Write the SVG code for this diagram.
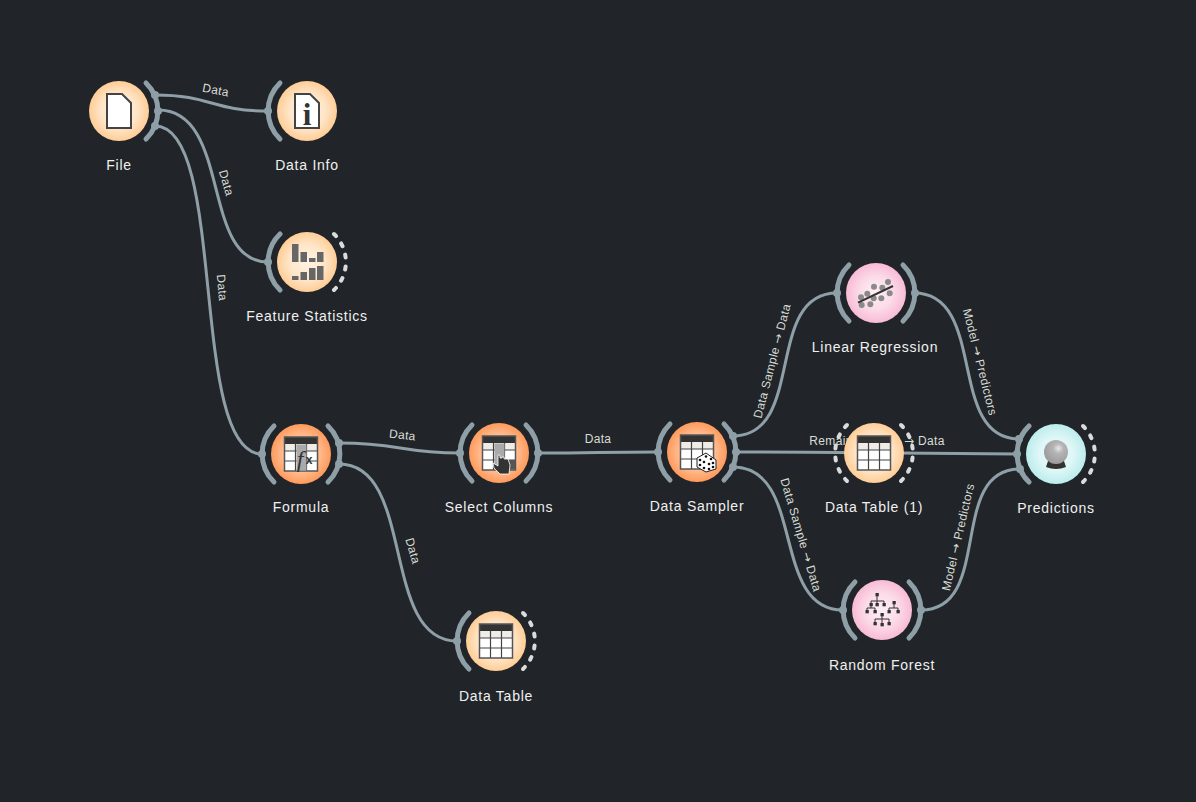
<svg xmlns="http://www.w3.org/2000/svg" width="1196" height="802" viewBox="0 0 1196 802">
<style>
.bg{fill:#212529}
.arc{fill:none;stroke:#8e9fa7;stroke-width:5;stroke-linecap:round}
.dash{fill:none;stroke:#d8dcdc;stroke-width:4;stroke-linecap:round;stroke-dasharray:3 8.9}
.port{fill:#8e9fa7}
.link{fill:none;stroke:#8e9fa7;stroke-width:3}
.name{font-family:"Liberation Sans",Arial,sans-serif;font-size:14px;letter-spacing:.75px;fill:#f0f0f0;text-anchor:middle}
.lab{font-family:"Liberation Sans",Arial,sans-serif;font-size:12px;letter-spacing:.35px;fill:#d9dcd6;text-anchor:middle}
.ar{font-family:"DejaVu Sans",sans-serif}
.tl{stroke:#444;stroke-width:1.200;fill:none}
.bar{fill:#666}
.dot{fill:#8a8a8a}
.tn{fill:#333}
.tw{stroke:#333;stroke-width:1;fill:none}
.pip{fill:#111}
</style>
<defs>
<radialGradient id="gO"><stop offset="0" stop-color="#fff3e4"/><stop offset=".6" stop-color="#ffe5c8"/><stop offset="1" stop-color="#ffcd96"/></radialGradient>
<radialGradient id="gD"><stop offset="0" stop-color="#ffe0c8"/><stop offset=".55" stop-color="#ffc197"/><stop offset="1" stop-color="#ff9a5c"/></radialGradient>
<radialGradient id="gP"><stop offset="0" stop-color="#fdf0f5"/><stop offset=".55" stop-color="#fcdbe8"/><stop offset="1" stop-color="#f8bbd6"/></radialGradient>
<radialGradient id="gT"><stop offset="0" stop-color="#f2fcfc"/><stop offset=".55" stop-color="#dff7f7"/><stop offset="1" stop-color="#bdeced"/></radialGradient>
<radialGradient id="gS" cx=".6" cy=".35" r=".7"><stop offset="0" stop-color="#e8e8e8"/><stop offset=".3" stop-color="#b5b5b5"/><stop offset="1" stop-color="#999"/></radialGradient>
<path id="la" d="M-27,-28A39,39 0 0 0 -27,28"/>
<path id="ra" d="M27,-28A39,39 0 0 1 27,28"/>
<g id="table">
<rect x="-16.500" y="-17" width="33" height="34" fill="#fff"/>
<rect x="-16.500" y="-10" width="33" height="7" fill="#f0ece8"/>
<path class="tl" d="M-5.500,-10V17M5.500,-10V17M-16.500,-3H16.500M-16.500,7H16.500"/>
<rect x="-16.500" y="-17" width="33" height="7" fill="#333"/>
<rect x="-16.500" y="-17" width="33" height="34" fill="none" stroke="#555" stroke-width="1.500"/>
</g>
<path id="doc" d="M-12,-17H3L12,-8V17H-12Z" fill="#fff" stroke="#444" stroke-width="2"/>
</defs>
<rect class="bg" width="1196" height="802"/>
<g id="connectors">
<path class="link" d="M155,95C212,95 211,111 268,111"/>
<path class="link" d="M158,110C232,110 200,262 268,262"/>
<path class="link" d="M155,126C228,126 188,454 262,454"/>
<path class="link" d="M339,443C400,443 400,453 460,453"/>
<path class="link" d="M339,464C416,464 380,641 457,641"/>
<path class="link" d="M538,453C598,453 598,452 658,452"/>
<path class="link" d="M733,436C806,436 764,293 837,293"/>
<path class="link" d="M736,452C830,452 925,454 1017,454"/>
<path class="link" d="M733,467C806,467 770,610 843,610"/>
<path class="link" d="M914,293C988,293 946,439 1019,439"/>
<path class="link" d="M921,610C994,610 947,469 1020,469"/>
</g>
<g id="labels">
<text class="lab" transform="translate(215,94) rotate(11)">Data</text>
<text class="lab" transform="translate(222.500,184) rotate(74)">Data</text>
<text class="lab" transform="translate(218,288) rotate(85)">Data</text>
<text class="lab" transform="translate(402,439) rotate(6)">Data</text>
<text class="lab" transform="translate(598,443)">Data</text>
<text class="lab" transform="translate(409,552) rotate(74)">Data</text>
<text class="lab" transform="translate(776,362) rotate(-75.500)">Data Sample <tspan class="ar">→</tspan> Data</text>
<text class="lab" transform="translate(797,536) rotate(73.500)">Data Sample <tspan class="ar">→</tspan> Data</text>
<text class="lab" transform="translate(877,445)">Remaining Data <tspan class="ar">→</tspan> Data</text>
<text class="lab" transform="translate(976,363) rotate(76)">Model <tspan class="ar">→</tspan> Predictors</text>
<text class="lab" transform="translate(962,538) rotate(-77)">Model <tspan class="ar">→</tspan> Predictors</text>
</g>
<g id="file" transform="translate(119,111)">
<circle r="30" fill="url(#gO)"/><use href="#ra" class="arc"/>
<circle class="port" cx="36" cy="-16" r="4"/><circle class="port" cx="39" cy="0" r="4"/><circle class="port" cx="36" cy="15" r="4"/>
<use href="#doc"/>
<text class="name" y="59">File</text>
</g>
<g id="data-info" transform="translate(307,111)">
<circle r="30" fill="url(#gO)"/><use href="#la" class="arc"/><circle class="port" cx="-39" r="4"/>
<use href="#doc"/>
<text x="0" y="14" font-family="Liberation Serif,serif" font-weight="700" font-size="31" fill="#333" text-anchor="middle">i</text>
<text class="name" y="59">Data Info</text>
</g>
<g id="feature-statistics" transform="translate(307,262)">
<circle r="30" fill="url(#gO)"/><use href="#la" class="arc"/><circle class="port" cx="-39" r="4"/><use href="#ra" class="dash"/>
<path class="bar" d="M-15,-18h6.500v18h-6.500zM-6.500,-10h6.500v10h-6.500zM2,-4h6.500v4h-6.500zM10,-10h6.500v10h-6.500zM-15,14h6.500v4h-6.500zM-6.500,10h6.500v8h-6.500zM2,6h6.500v12h-6.500zM10,4h6.500v14h-6.500z"/>
<text class="name" y="59">Feature Statistics</text>
</g>
<g id="formula" transform="translate(301,454)">
<circle r="30" fill="url(#gD)"/><use href="#la" class="arc"/><use href="#ra" class="arc"/>
<circle class="port" cx="-39" r="4"/><circle class="port" cx="38" cy="-11" r="4"/><circle class="port" cx="38" cy="10" r="4"/>
<use href="#table"/><rect x="-4.500" y="-9.500" width="10" height="26" fill="#aaa"/>
<text x="-1" y="13" font-family="Liberation Serif,serif" font-style="italic" font-size="24" fill="#333" text-anchor="middle">f</text>
<text x="8" y="10" font-family="Liberation Sans,sans-serif" font-weight="700" font-size="12" fill="#333" text-anchor="middle">x</text>
<text class="name" y="58">Formula</text>
</g>
<g id="select-columns" transform="translate(499,453)">
<circle r="30" fill="url(#gD)"/><use href="#la" class="arc"/><use href="#ra" class="arc"/>
<circle class="port" cx="-39" r="4"/><circle class="port" cx="39" r="4"/>
<use href="#table"/><rect x="-4.500" y="-9.500" width="10" height="26" fill="#aaa"/><rect x="8" y="7" width="8" height="9.500" fill="#555"/>
<path d="M-1,2V13L-6,10L-5,15L1,21H10L11,12L9,6L5,6V4H3V5H1V2Z" fill="#333" stroke="#fff" stroke-width=".8"/>
<text class="name" y="59">Select Columns</text>
</g>
<g id="data-sampler" transform="translate(697,452)">
<circle r="30" fill="url(#gD)"/><use href="#la" class="arc"/><use href="#ra" class="arc"/>
<circle class="port" cx="-39" r="4"/><circle class="port" cx="36" cy="-16" r="4"/><circle class="port" cx="39" r="4"/><circle class="port" cx="36" cy="15" r="4"/>
<use href="#table"/>
<path d="M9,1L19,8V17L9,20L0,15V6Z" fill="#fff" stroke="#222" stroke-width="1"/>
<g class="pip"><circle cx="3" cy="8" r="1.300"/><circle cx="9" cy="4.500" r="1.300"/><circle cx="14" cy="7" r="1.300"/><circle cx="3" cy="13" r="1.300"/><circle cx="7" cy="10" r="1.300"/><circle cx="7" cy="16" r="1.300"/><circle cx="12" cy="12" r="1.300"/><circle cx="16" cy="11" r="1.300"/><circle cx="16" cy="15" r="1.300"/><circle cx="12" cy="17" r="1.300"/></g>
<text class="name" y="59">Data Sampler</text>
</g>
<g id="linear-regression" transform="translate(876,293)">
<circle r="30" fill="url(#gP)"/><use href="#la" class="arc"/><use href="#ra" class="arc"/>
<circle class="port" cx="-39" r="4"/><circle class="port" cx="39" r="4"/>
<g class="dot"><circle cx="-15" cy="4.300" r="3"/><circle cx="-8.700" cy=".7" r="3"/><circle cx="-2" cy="-6.300" r="3"/><circle cx="6.300" cy="-5.300" r="3"/><circle cx="12" cy="-11" r="3"/><circle cx="-2.300" cy="5.300" r="3"/><circle cx="5.300" cy="5.300" r="3"/><circle cx="13.700" cy=".3" r="3"/><circle cx="-14.300" cy="12" r="3"/><circle cx="-5.700" cy="11.300" r="3"/></g>
<path d="M-18,9.700L17,-7" stroke="#333" stroke-width="2"/>
<text class="name" x="-1" y="59">Linear Regression</text>
</g>
<g id="data-table-1" transform="translate(874,453)">
<use href="#la" class="dash"/><use href="#ra" class="dash"/>
<circle r="30" fill="url(#gO)"/>
<use href="#table"/>
<text class="name" y="59">Data Table (1)</text>
</g>
<g id="random-forest" transform="translate(882,610)">
<circle r="30" fill="url(#gP)"/><use href="#la" class="arc"/><use href="#ra" class="arc"/>
<circle class="port" cx="-39" r="4"/><circle class="port" cx="39" r="4"/>
<path class="tw" d="M-5,-15V-9M-11,-6V-9H2V-6M-5,-9V-6M-15,1V-2H-7V1M-11,-6V-2M12,-7V-2M7,1V-2H16V1M0,5V9M-7,13V9H7V13M0,9V13"/>
<g class="tn"><rect x="-6.500" y="-17" width="3.300" height="3.300"/><rect x="-12.500" y="-7" width="3.300" height="3.300"/><rect x="-6.500" y="-7" width="3.300" height="3.300"/><rect x=".5" y="-7" width="3.300" height="3.300"/><rect x="10.500" y="-9" width="3.300" height="3.300"/><rect x="-16.500" y="0" width="3.300" height="3.300"/><rect x="-8.500" y="0" width="3.300" height="3.300"/><rect x="5.500" y="0" width="3.300" height="3.300"/><rect x="14.500" y="0" width="3.300" height="3.300"/><rect x="-1.500" y="3" width="3.300" height="3.300"/><rect x="-8.500" y="12" width="3.300" height="3.300"/><rect x="-1.500" y="13" width="3.300" height="3.300"/><rect x="5.500" y="12" width="3.300" height="3.300"/></g>
<text class="name" y="60">Random Forest</text>
</g>
<g id="data-table" transform="translate(496,641)">
<circle r="30" fill="url(#gO)"/><use href="#la" class="arc"/><circle class="port" cx="-39" r="4"/><use href="#ra" class="dash"/>
<use href="#table"/>
<text class="name" y="60">Data Table</text>
</g>
<g id="predictions" transform="translate(1056,454)">
<use href="#ra" class="dash"/>
<circle r="30" fill="url(#gT)"/><use href="#la" class="arc"/>
<circle class="port" cx="-37" cy="-15" r="4"/><circle class="port" cx="-39" r="4"/><circle class="port" cx="-36" cy="15" r="4"/>
<path d="M-8,7L-10,13Q0,17 10,13L8,7Z" fill="#333"/>
<circle cy="-2" r="12" fill="url(#gS)"/>
<text class="name" y="59">Predictions</text>
</g>
</svg>
